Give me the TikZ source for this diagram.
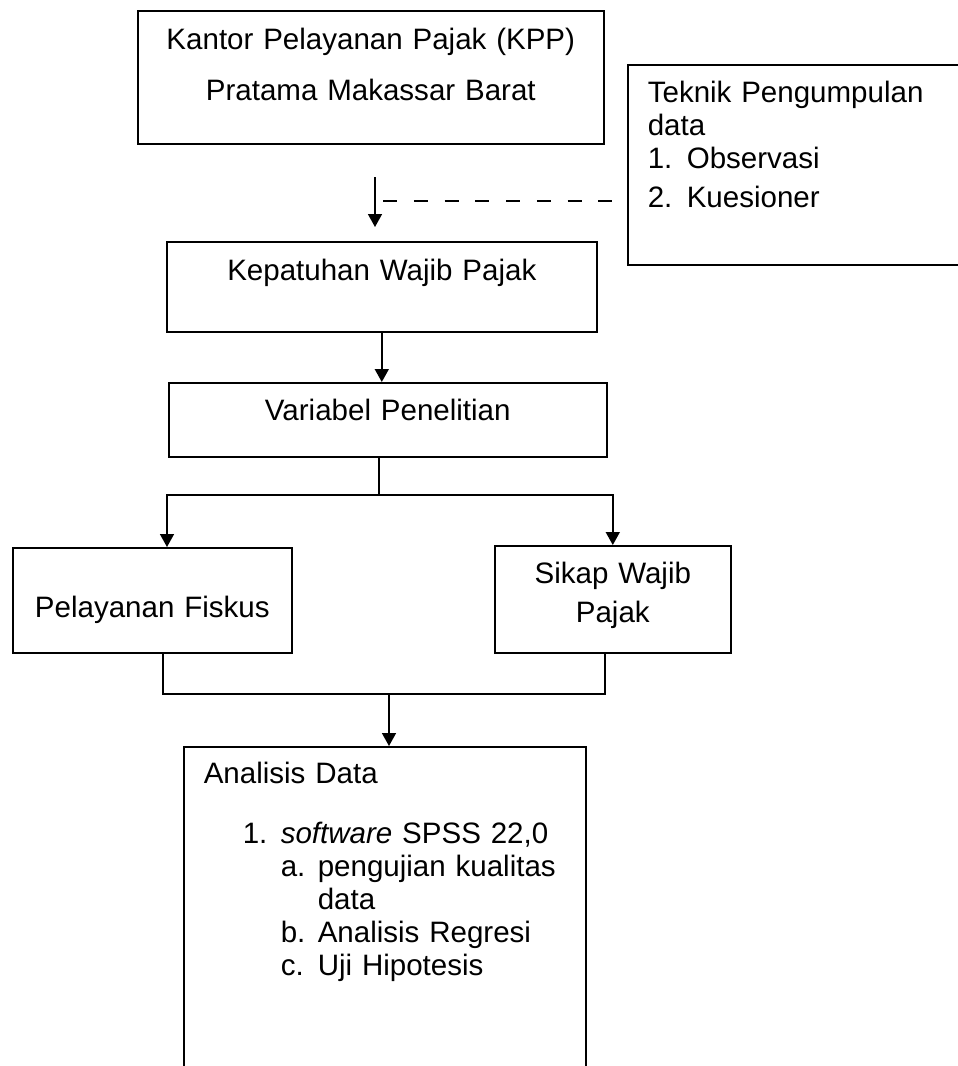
\documentclass[tikz,border=0pt]{standalone}
\usepackage{fontspec}
\setmainfont{Liberation Sans}
\usetikzlibrary{arrows.meta}

\tikzset{
    box/.style={draw, line width=0.9pt, inner sep=0pt, anchor=north west, align=center},
    listbox/.style={box, align=left, inner xsep=0.4cm},
    link/.style={line width=0.9pt},
    arr/.style={link, -{Triangle[length=0.26cm,width=0.28cm]}}
}

\begin{document}
\begin{tikzpicture}[font=\fontsize{16.8}{18.8}\selectfont]
    \path[use as bounding box, fill=white] (0,0) rectangle (19.16,-21.32);

    \node[box, text width=9.32cm, text height=0.78cm, text depth=1.88cm] (kpp) at (2.74,-0.2)
        {Kantor Pelayanan Pajak (KPP)\\[0.36cm] Pratama Makassar Barat};
    \node[listbox, text width=6.2cm, text height=0.76cm, text depth=3.24cm] (tek) at (12.54,-1.28)
        {Teknik Pengumpulan\\ data\\ \makebox[0.78cm][l]{1.}Observasi\\[0.12cm] \makebox[0.78cm][l]{2.}Kuesioner};
    \node[box, text width=8.6cm, text height=0.78cm, text depth=1.02cm] (kep) at (3.32,-4.82)
        {Kepatuhan Wajib Pajak};
    \node[box, text width=8.76cm, text height=0.76cm, text depth=0.72cm] (var) at (3.36,-7.64)
        {Variabel Penelitian};
    \node[box, text width=5.58cm, text height=1.4cm, text depth=0.7cm] (pel) at (0.24,-10.94)
        {Pelayanan Fiskus};
    \node[box, text width=4.72cm, text height=0.76cm, text depth=1.38cm] (sik) at (9.88,-10.9)
        {Sikap Wajib\\[0.12cm] Pajak};
    \node[listbox, text width=7.24cm, text height=0.74cm, text depth=6.2cm] (ana) at (3.66,-14.92)
        {Analisis Data\\[0.54cm]
        \hspace*{0.78cm}\makebox[0.76cm][l]{1.}\textit{software} SPSS 22,0\\
        \hspace*{1.54cm}\makebox[0.74cm][l]{a.}pengujian kualitas\\
        \hspace*{2.28cm}data\\
        \hspace*{1.54cm}\makebox[0.74cm][l]{b.}Analisis Regresi\\
        \hspace*{1.54cm}\makebox[0.74cm][l]{c.}Uji Hipotesis};

    \coordinate (a1) at (7.5,-3.54);
    \coordinate (d1) at (7.66,-4.02);
    \draw[arr, shorten >=0.28cm] (a1) -- (a1 |- kep.north);
    \draw[link, dash pattern=on 8pt off 9.5pt] (d1) -- (d1 -| tek.west);

    \draw[arr] (kep.south) -- (kep.south |- var.north);

    \coordinate (br) at (7.58,-9.9);
    \coordinate (bl) at (3.34,-9.9);
    \draw[link] (var.south -| br) -- (br);
    \draw[arr] (br) -| (bl |- pel.north);
    \draw[arr] (br) -| (sik.north);

    \coordinate (ml) at (3.26,-13.88);
    \coordinate (mr) at (12.1,-13.88);
    \coordinate (mc) at (7.78,-13.88);
    \draw[link] (pel.south -| ml) |- (mr) -- (mr |- sik.south);
    \draw[arr] (mc) -- (mc |- ana.north);
\end{tikzpicture}
\end{document}
